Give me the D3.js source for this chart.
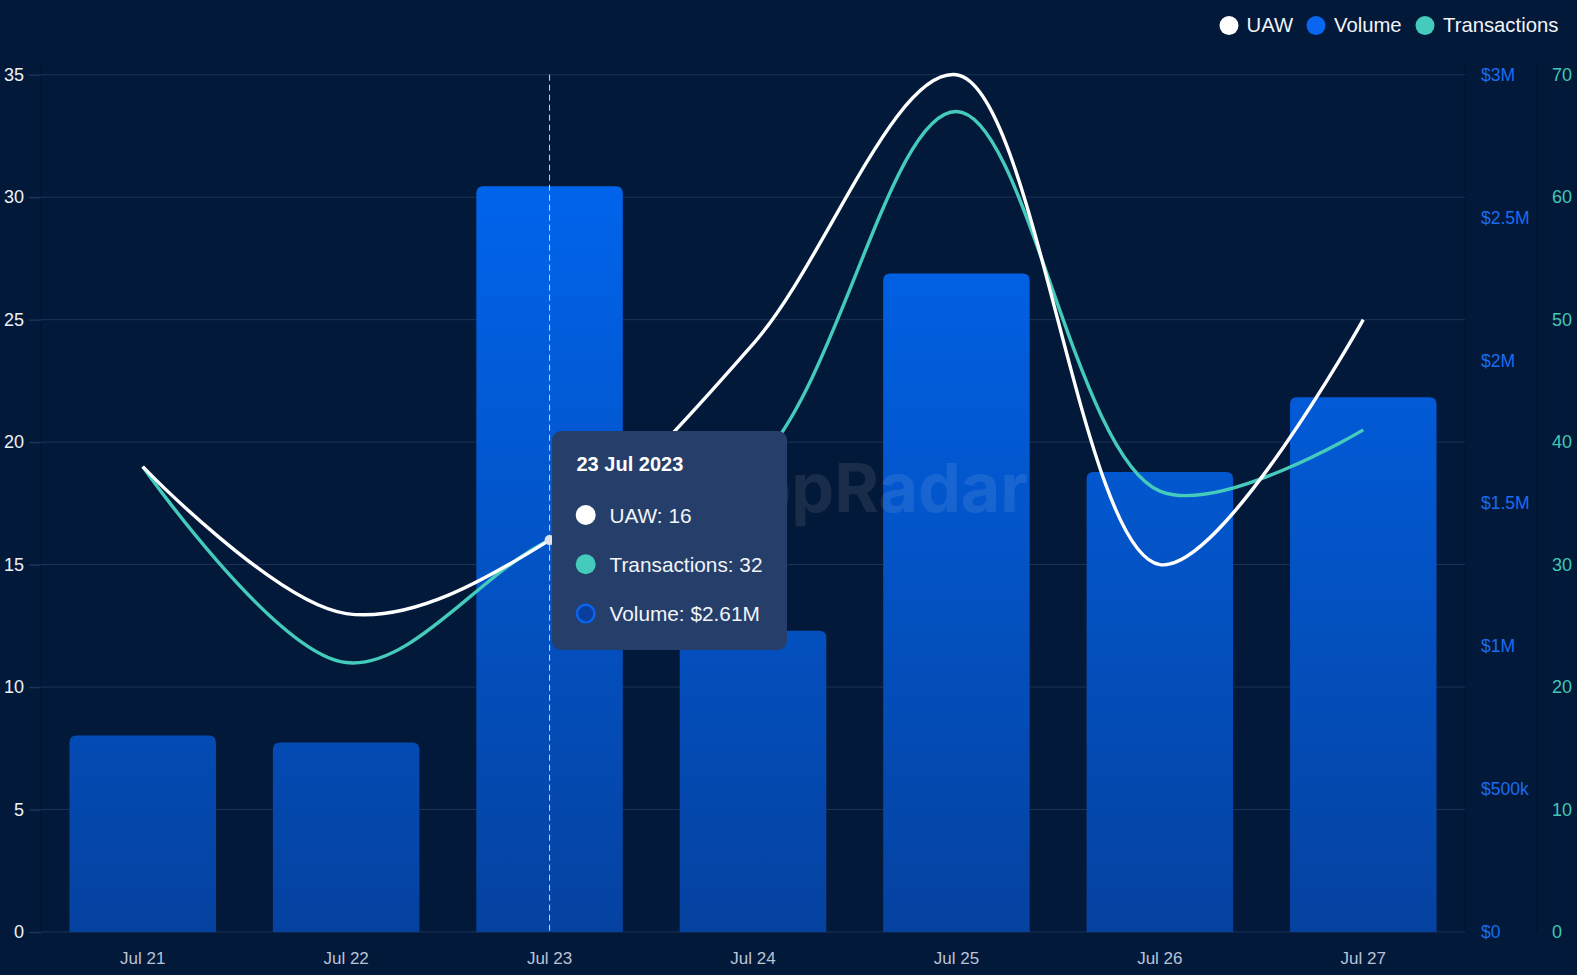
<!DOCTYPE html>
<html>
<head>
<meta charset="utf-8">
<script src="https://cdn.jsdelivr.net/npm/d3@7/dist/d3.min.js"></script>
<style>
  html, body { margin: 0; padding: 0; background: #03193a; }
  svg { display: block; font-family: "Liberation Sans", Arial, sans-serif; }
</style>
</head>
<body>
<svg id="chart" width="1577" height="975"></svg>
<script>
// ---- data ----
const dates = ["Jul 21", "Jul 22", "Jul 23", "Jul 24", "Jul 25", "Jul 26", "Jul 27"];
const uaw = [19, 13, 16, 24, 35, 15, 25];
const transactions = [38, 22, 32, 38, 67, 36, 41];
const volume = [688000, 663000, 2610000, 1054000, 2304000, 1610000, 1871000];
const leftTicks = [0, 5, 10, 15, 20, 25, 30, 35];
const volumeTicks = [0, 500000, 1000000, 1500000, 2000000, 2500000, 3000000];
const volumeTickLabels = ["$0", "$500k", "$1M", "$1.5M", "$2M", "$2.5M", "$3M"];
const txTicks = [0, 10, 20, 30, 40, 50, 60, 70];
const seriesNames = ["UAW", "Volume", "Transactions"];
const tooltipIndex = 2;
const tooltipTitle = "23 Jul 2023";
const tooltipVolume = "$2.61M";

// ---- layout ----
const W = 1577, H = 975;
const pLeft = 41, pRight = 1465, pTop = 74.7, pBottom = 932;
const colors = { uaw: "#ffffff", volume: "#0a66f2", tx: "#45cbbb" };

const svg = d3.select("#chart");
svg.append("rect").attr("width", W).attr("height", H).attr("fill", "#03193a");

const defs = svg.append("defs");
const grad = defs.append("linearGradient").attr("id", "barGrad")
  .attr("gradientUnits", "userSpaceOnUse").attr("x1", 0).attr("x2", 0).attr("y1", pTop).attr("y2", pBottom);
grad.append("stop").attr("offset", "0%").attr("stop-color", "#0069f7");
grad.append("stop").attr("offset", "100%").attr("stop-color", "#0542a0");

const x = d3.scaleBand().domain(dates).range([pLeft, pRight]).paddingInner(0.28).paddingOuter(0.14);
const yL = d3.scaleLinear().domain([0, 35]).range([pBottom, pTop]);
const yV = d3.scaleLinear().domain([0, 3000000]).range([pBottom, pTop]);
const yT = d3.scaleLinear().domain([0, 70]).range([pBottom, pTop]);
const cx = d => x(d) + x.bandwidth() / 2;

// faint vertical frame lines
[pLeft, pRight, 1537].forEach(xx => {
  svg.append("line").attr("x1", xx).attr("x2", xx).attr("y1", pTop - 10).attr("y2", pBottom)
    .attr("stroke", "#021430").attr("stroke-width", 1.5);
});

// gridlines + left axis
const gAxisL = svg.append("g").attr("transform", `translate(${pLeft},0)`)
  .call(d3.axisLeft(yL).tickValues(leftTicks).tickSize(12).tickPadding(5));
gAxisL.select(".domain").remove();
gAxisL.selectAll(".tick line").attr("stroke", "#1c3459").attr("stroke-width", 1.5);
gAxisL.selectAll(".tick text").attr("fill", "#eef1f7").attr("font-size", 18)
  .attr("font-family", "Liberation Sans, Arial, sans-serif");

svg.append("g").selectAll("line").data(leftTicks).join("line")
  .attr("x1", pLeft).attr("x2", pRight)
  .attr("y1", d => yL(d)).attr("y2", d => yL(d))
  .attr("stroke", "#1b3358").attr("stroke-width", 1);

// right axes
const gAxisV = svg.append("g").attr("transform", `translate(1481,0)`)
  .call(d3.axisRight(yV).tickValues(volumeTicks).tickSize(0).tickPadding(0)
    .tickFormat((d, i) => volumeTickLabels[i]));
gAxisV.select(".domain").remove();
gAxisV.selectAll(".tick text").attr("fill", "#1a6cf0").attr("font-size", 17.5)
  .attr("font-family", "Liberation Sans, Arial, sans-serif");

const gAxisT = svg.append("g").attr("transform", `translate(1552,0)`)
  .call(d3.axisRight(yT).tickValues(txTicks).tickSize(0).tickPadding(0));
gAxisT.select(".domain").remove();
gAxisT.selectAll(".tick text").attr("fill", "#42c6b4").attr("font-size", 18)
  .attr("font-family", "Liberation Sans, Arial, sans-serif");

// x axis
const gAxisX = svg.append("g").attr("transform", `translate(0,${pBottom})`)
  .call(d3.axisBottom(x).tickSize(0).tickPadding(20));
gAxisX.select(".domain").remove();
gAxisX.selectAll(".tick text").attr("fill", "#b9c3d6").attr("font-size", 17)
  .attr("font-family", "Liberation Sans, Arial, sans-serif");

// bars with rounded tops
function topRounded(x0, y0, w, h, r) {
  r = Math.min(r, h, w / 2);
  return `M${x0},${y0 + h}V${y0 + r}Q${x0},${y0} ${x0 + r},${y0}H${x0 + w - r}Q${x0 + w},${y0} ${x0 + w},${y0 + r}V${y0 + h}Z`;
}
svg.append("g").selectAll("path").data(dates).join("path")
  .attr("d", (d, i) => topRounded(x(d), yV(volume[i]), x.bandwidth(), pBottom - yV(volume[i]), 7))
  .attr("fill", "url(#barGrad)");

// watermark
svg.append("text").attr("x", 1028).attr("y", 512).attr("text-anchor", "end")
  .attr("font-family", "Inter, 'Open Sans', sans-serif").attr("font-weight", 700)
  .attr("font-size", 68).attr("fill", "#ffffff").attr("fill-opacity", 0.09)
  .text("DappRadar");

// hover dashed line
svg.append("line").attr("x1", cx(dates[tooltipIndex])).attr("x2", cx(dates[tooltipIndex]))
  .attr("y1", pTop).attr("y2", pBottom)
  .attr("stroke", "#d5dbe6").attr("stroke-width", 1).attr("stroke-dasharray", "6,4");

// lines
const curve = d3.curveCatmullRom.alpha(0.5);
const lineT = d3.line().x((d, i) => cx(dates[i])).y(d => yT(d)).curve(curve);
const lineU = d3.line().x((d, i) => cx(dates[i])).y(d => yL(d)).curve(curve);
svg.append("path").attr("d", lineT(transactions)).attr("fill", "none")
  .attr("stroke", colors.tx).attr("stroke-width", 3.4);
svg.append("path").attr("d", lineU(uaw)).attr("fill", "none")
  .attr("stroke", colors.uaw).attr("stroke-width", 3.4);

// hover dot
svg.append("circle").attr("cx", cx(dates[tooltipIndex])).attr("cy", yL(uaw[tooltipIndex]))
  .attr("r", 5).attr("fill", "#dfe3ea");

// tooltip
const tt = svg.append("g").attr("transform", "translate(552,431)");
tt.append("rect").attr("width", 235).attr("height", 219).attr("rx", 9).attr("fill", "#253f6a");
tt.append("text").attr("x", 24.5).attr("y", 33).attr("dominant-baseline", "central")
  .attr("fill", "#ffffff").attr("font-weight", 700).attr("font-size", 20).text(tooltipTitle);
const rows = [
  { label: `UAW: ${uaw[tooltipIndex]}`, fill: colors.uaw, stroke: "none" },
  { label: `Transactions: ${transactions[tooltipIndex]}`, fill: colors.tx, stroke: "none" },
  { label: `Volume: ${tooltipVolume}`, fill: "#0a3f9e", stroke: "#0a64f0" }
];
rows.forEach((r, i) => {
  const yy = 84 + i * 49.3;
  tt.append("circle").attr("cx", 33.7).attr("cy", yy).attr("r", r.stroke === "none" ? 10 : 8.8)
    .attr("fill", r.fill).attr("stroke", r.stroke).attr("stroke-width", 2.4);
  tt.append("text").attr("x", 57.5).attr("y", yy).attr("dominant-baseline", "central")
    .attr("fill", "#f2f4f8").attr("font-size", 20.8).text(r.label);
});

// legend
const legendItems = [
  { name: seriesNames[0], color: colors.uaw, cx: 1229, tx: 1246.5 },
  { name: seriesNames[1], color: "#0866f0", cx: 1316, tx: 1334 },
  { name: seriesNames[2], color: colors.tx, cx: 1425, tx: 1443 }
];
legendItems.forEach(l => {
  svg.append("circle").attr("cx", l.cx).attr("cy", 25.5).attr("r", 9.5).attr("fill", l.color);
  svg.append("text").attr("x", l.tx).attr("y", 24.5).attr("dominant-baseline", "central")
    .attr("fill", "#f2f4f8").attr("font-size", 20.3).text(l.name);
});
</script>
</body>
</html>
